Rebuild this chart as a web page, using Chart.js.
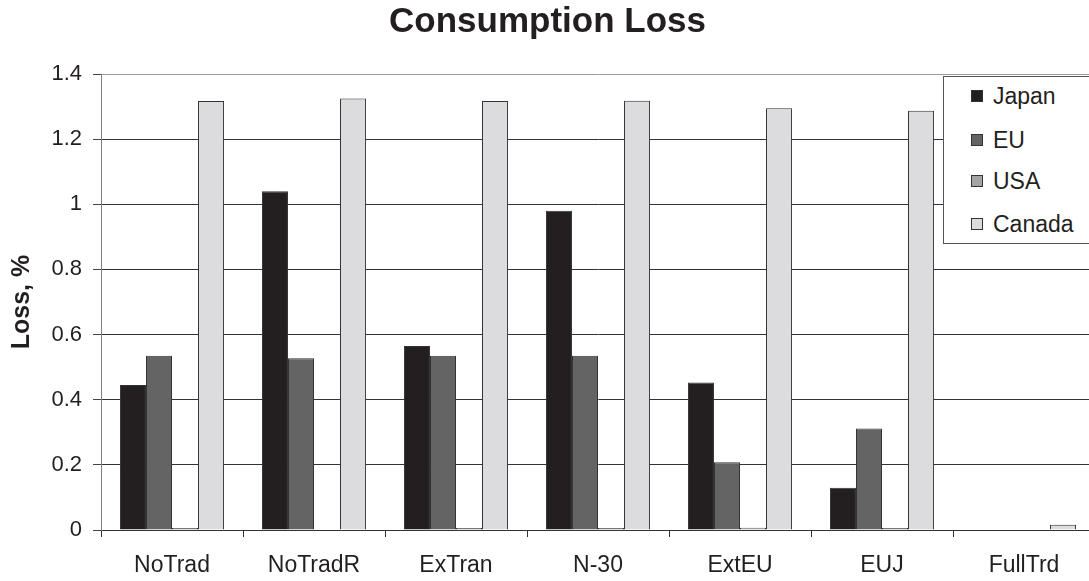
<!DOCTYPE html>
<html>
<head>
<meta charset="utf-8">
<script src="https://cdn.jsdelivr.net/npm/chart.js@4.4.1/dist/chart.umd.min.js"></script>
<style>
  html, body { margin: 0; padding: 0; background: #fff; overflow: hidden; }
  #wrap { position: relative; width: 1100px; height: 581px; }
  #legend {
    position: absolute; left: 943px; top: 76px; width: 150px; height: 168px;
    background: #fff; border: 1px solid #555; box-sizing: border-box;
    font-family: "Liberation Sans", Arial, sans-serif; font-size: 23px; color: #231f20;
  }
  .item { position: absolute; left: 0; height: 28px; line-height: 28px; white-space: nowrap; }
  .sw { position: absolute; left: 27px; top: 8px; width: 12px; height: 12px; box-sizing: border-box; border: 1px solid #333; }
  .lab { position: absolute; left: 49px; top: 0; }
</style>
</head>
<body>
<div id="wrap">
  <canvas id="c"></canvas>
  <div id="legend"></div>
</div>
<script>
// Scenarios on the x axis
const categories = ['NoTrad', 'NoTradR', 'ExTran', 'N-30', 'ExtEU', 'EUJ', 'FullTrd'];

// Consumption loss (%) by region for each scenario
const japan  = [0.445, 1.04, 0.565, 0.98, 0.453, 0.13, 0];
const eu     = [0.535, 0.527, 0.535, 0.535, 0.208, 0.312, 0];
const usa    = [0.006, 0, 0.006, 0.006, 0.007, 0.006, 0];
const canada = [1.317, 1.325, 1.317, 1.318, 1.295, 1.287, 0.016];

const seriesNames = ['Japan', 'EU', 'USA', 'Canada'];
const yTicks = [0, 0.2, 0.4, 0.6, 0.8, 1, 1.2, 1.4];

const fills = ['#231f20', '#646464', '#a4a4a4', '#dcdcde'];
const FONT = '"Liberation Sans", Arial, sans-serif';

const datasets = [japan, eu, usa, canada].map((vals, i) => ({
  label: seriesNames[i],
  data: vals,
  backgroundColor: fills[i],
  borderColor: '#333333',
  borderWidth: 1,
  borderSkipped: 'bottom',
  categoryPercentage: 0.733,
  barPercentage: 1.0
}));

new Chart(document.getElementById('c'), {
  type: 'bar',
  data: { labels: categories, datasets },
  options: {
    responsive: true,
    maintainAspectRatio: false,
    animation: false,
    layout: { padding: { left: 0, right: 5, top: 0, bottom: 0 } },
    plugins: {
      legend: { display: false },
      tooltip: { enabled: false },
      title: {
        display: true,
        text: 'Consumption Loss',
        color: '#231f20',
        font: { family: FONT, size: 35, weight: 'bold' },
        padding: { top: 1, bottom: 31 }
      }
    },
    scales: {
      x: {
        offset: true,
        grid: {
          display: true, drawOnChartArea: false, drawTicks: true,
          tickLength: 7, color: '#333333', offset: true
        },
        border: { display: true, color: '#333333', width: 1 },
        ticks: {
          color: '#231f20', padding: 15,
          font: { family: FONT, size: 23 }
        },
        afterFit: (s) => { s.height = 51; }
      },
      y: {
        min: 0, max: 1.4,
        afterBuildTicks: (s) => { s.ticks = yTicks.map(v => ({ value: v })); },
        grid: {
          color: (ctx) => (ctx.tick && ctx.tick.value === 1.4) ? '#9a9a9a' : '#333333',
          tickColor: '#444444',
          lineWidth: 1,
          tickLength: 8
        },
        border: { display: true, color: '#808080', width: 1 },
        ticks: {
          color: '#231f20', padding: 11,
          font: { family: FONT, size: 22 },
          callback: (v) => String(Math.round(v * 10) / 10)
        },
        title: {
          display: true,
          text: 'Loss, %',
          color: '#231f20',
          font: { family: FONT, size: 25, weight: 'bold' },
          padding: { top: 7, bottom: 0 }
        },
        afterFit: (s) => { s.width = 101; }
      }
    }
  }
});

// Legend box inside the plot area
const legend = document.getElementById('legend');
const rowTops = [5, 49, 90, 133];
seriesNames.forEach((name, i) => {
  const row = document.createElement('div');
  row.className = 'item';
  row.style.top = rowTops[i] + 'px';
  const sw = document.createElement('span');
  sw.className = 'sw';
  sw.style.background = fills[i];
  const lab = document.createElement('span');
  lab.className = 'lab';
  lab.textContent = name;
  row.appendChild(sw);
  row.appendChild(lab);
  legend.appendChild(row);
});
</script>
</body>
</html>
